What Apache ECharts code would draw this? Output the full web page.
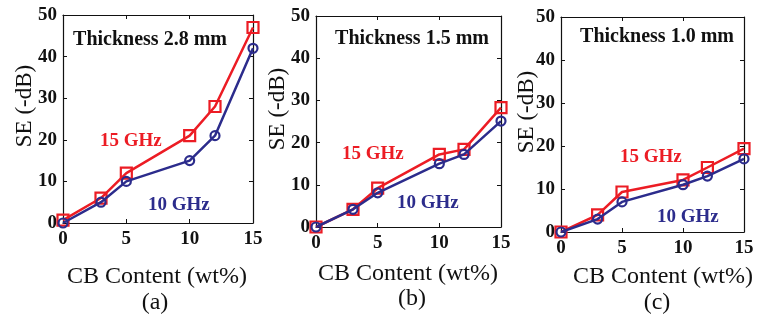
<!DOCTYPE html>
<html>
<head>
<meta charset="utf-8">
<script src="https://cdn.jsdelivr.net/npm/echarts@6/dist/echarts.min.js"></script>
<style>
  html, body { margin: 0; padding: 0; background: #fff; }
  #chart { width: 760px; height: 320px; }
</style>
</head>
<body>
<div id="chart"></div>
<script>
// CB content (wt%) shared by every panel
const cbContent = [0, 3, 5, 10, 12, 15];

// Shielding effectiveness SE (-dB), one pair of series per sample thickness
const se15GHz_28mm = [0.7, 6, 12, 21, 28, 47];
const se10GHz_28mm = [0, 5, 10, 15, 21, 42];
const se15GHz_15mm = [0, 4.2, 9.2, 17.2, 18.4, 28.3];
const se10GHz_15mm = [0, 4.2, 8.1, 15, 17.2, 25.1];
const se15GHz_10mm = [0, 4, 9.3, 12.1, 15, 19.4];
const se10GHz_10mm = [0, 3, 7, 11, 13, 17];

const xTicks = [0, 5, 10, 15];
const yTicks = [0, 10, 20, 30, 40, 50];

const panelTitles = ['Thickness 2.8 mm', 'Thickness 1.5 mm', 'Thickness 1.0 mm'];
const panelTags = ['(a)', '(b)', '(c)'];
const freqLabels = ['15 GHz', '10 GHz'];
const yTitle = 'SE (-dB)';
const xTitle = 'CB Content (wt%)';

const RED = '#ec1c24';
const BLUE = '#2c2c8c';
const SERIF = 'Liberation Serif';

// plot boxes (pixels)
const boxes = [
  { left: 63, top: 15, width: 190, height: 208 },
  { left: 316, top: 16, width: 185, height: 211 },
  { left: 561, top: 17, width: 183, height: 215 }
];

const seriesSets = [
  [se15GHz_28mm, se10GHz_28mm],
  [se15GHz_15mm, se10GHz_15mm],
  [se15GHz_10mm, se10GHz_10mm]
];

// label anchors per panel: title centre, 15 GHz left, 10 GHz left, y title centre, x title centre, tag centre
const anchors = [
  { title: [150, 40], f15: [100, 141], f10: [148, 205], yt: [25, 106], xt: [157, 277], tag: [155, 303] },
  { title: [412, 39], f15: [342, 154], f10: [397, 203], yt: [278, 109], xt: [408, 274], tag: [412, 299] },
  { title: [657, 37], f15: [620, 157], f10: [657, 217], yt: [527, 112], xt: [663, 277], tag: [657, 303] }
];

function label(x, y, text, size, weight, color, rotation) {
  return {
    type: 'text', x: x, y: y, rotation: rotation || 0,
    style: {
      text: text, fontFamily: SERIF, fontSize: size, fontWeight: weight,
      fill: color, align: 'center', verticalAlign: 'middle'
    }
  };
}

const grid = [], xAxis = [], yAxis = [], series = [], graphic = [];

boxes.forEach((b, i) => {
  grid.push({ left: b.left, top: b.top, width: b.width, height: b.height, show: false, containLabel: false });

  const tickCommon = { show: true, inside: true, length: 4, lineStyle: { color: '#111', width: 1 } };
  const lineCommon = { show: true, onZero: false, lineStyle: { color: '#111', width: 1.2 } };
  const tickText = { color: '#111', fontFamily: SERIF, fontWeight: 'bold', fontSize: 19 };

  xAxis.push({
    type: 'value', gridIndex: i, min: xTicks[0], max: xTicks[xTicks.length - 1], interval: xTicks[1] - xTicks[0],
    position: 'bottom', axisLine: lineCommon, axisTick: tickCommon, splitLine: { show: false },
    axisLabel: Object.assign({ margin: 7 }, tickText)
  });
  xAxis.push({
    type: 'value', gridIndex: i, min: xTicks[0], max: xTicks[xTicks.length - 1], interval: xTicks[1] - xTicks[0],
    position: 'top', axisLine: lineCommon, axisTick: tickCommon, splitLine: { show: false },
    axisLabel: { show: false }
  });
  yAxis.push({
    type: 'value', gridIndex: i, min: yTicks[0], max: yTicks[yTicks.length - 1], interval: yTicks[1] - yTicks[0],
    position: 'left', axisLine: lineCommon, axisTick: tickCommon, splitLine: { show: false },
    axisLabel: Object.assign({ margin: 6 }, tickText)
  });
  yAxis.push({
    type: 'value', gridIndex: i, min: yTicks[0], max: yTicks[yTicks.length - 1], interval: yTicks[1] - yTicks[0],
    position: 'right', axisLine: lineCommon, axisTick: tickCommon, splitLine: { show: false },
    axisLabel: { show: false }
  });

  const [hi, lo] = seriesSets[i];
  series.push({
    type: 'line', xAxisIndex: i * 2, yAxisIndex: i * 2,
    data: cbContent.map((x, k) => [x, hi[k]]),
    symbol: 'rect', symbolSize: 11,
    lineStyle: { color: RED, width: 2.5 },
    itemStyle: { color: 'rgba(0,0,0,0)', borderColor: RED, borderWidth: 2.2 },
    animation: false, z: 2
  });
  series.push({
    type: 'line', xAxisIndex: i * 2, yAxisIndex: i * 2,
    data: cbContent.map((x, k) => [x, lo[k]]),
    symbol: 'circle', symbolSize: 9,
    lineStyle: { color: BLUE, width: 2.5 },
    itemStyle: { color: 'rgba(0,0,0,0)', borderColor: BLUE, borderWidth: 2.2 },
    animation: false, z: 3
  });

  const a = anchors[i];
  graphic.push(label(a.title[0], a.title[1], panelTitles[i], 20, 'bold', '#111'));
  const f15 = label(a.f15[0], a.f15[1], freqLabels[0], 19, 'bold', RED);
  f15.style.align = 'left';
  graphic.push(f15);
  const f10 = label(a.f10[0], a.f10[1], freqLabels[1], 19, 'bold', BLUE);
  f10.style.align = 'left';
  graphic.push(f10);
  graphic.push(label(a.yt[0], a.yt[1], yTitle, 23, 'normal', '#111', Math.PI / 2));
  graphic.push(label(a.xt[0], a.xt[1], xTitle, 24, 'normal', '#111'));
  graphic.push(label(a.tag[0], a.tag[1], panelTags[i], 24, 'normal', '#111'));
});

const chart = echarts.init(document.getElementById('chart'), null, { renderer: 'canvas' });
chart.setOption({
  backgroundColor: '#fff',
  animation: false,
  grid, xAxis, yAxis, series, graphic
});
</script>
</body>
</html>
